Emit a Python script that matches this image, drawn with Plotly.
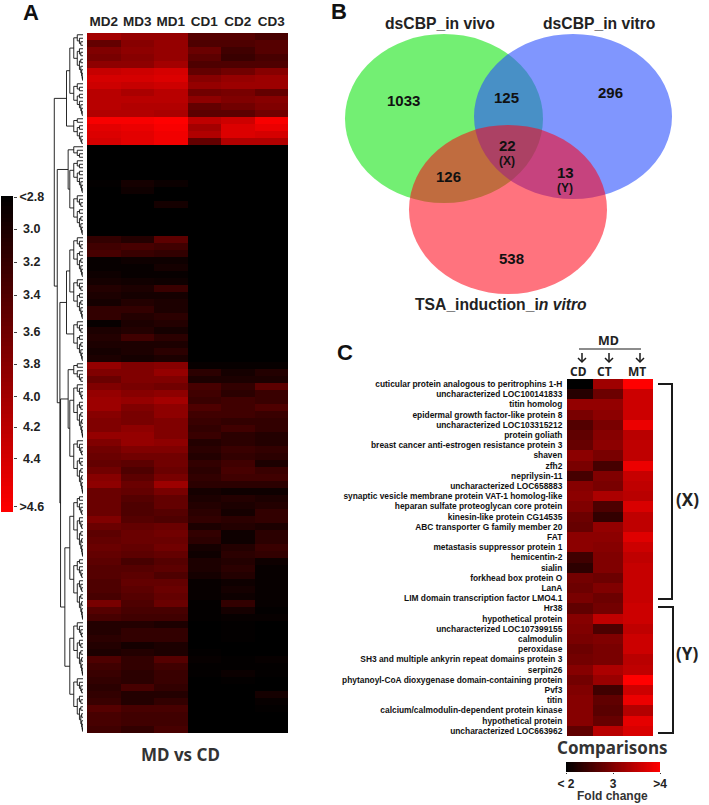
import numpy as np
import plotly.graph_objects as go

W, H = 709, 805

# ---------- Panel A data (fold change per row band) : MD2 MD3 MD1 CD1 CD2 CD3
samples_a = ["MD2", "MD3", "MD1", "CD1", "CD2", "CD3"]
rows_top_red = [
    [3.95,3.85,3.85,3.40,3.40,3.30],[3.50,3.75,3.85,3.35,3.35,3.40],[3.70,3.80,3.85,3.55,3.25,3.40],
    [3.65,3.75,3.85,3.45,3.20,3.30],[3.80,3.80,3.95,3.35,3.35,3.35],[4.20,4.25,4.30,3.50,3.60,3.75],
    [4.30,4.30,4.35,3.75,3.85,3.90],[4.25,4.20,4.25,3.85,3.90,3.90],[4.10,4.00,4.10,3.60,3.65,3.50],
    [4.10,4.10,4.10,3.80,3.70,3.75],[4.10,4.05,4.05,3.50,3.60,3.70],[4.05,4.05,4.00,3.45,3.45,3.60],
    [4.55,4.55,4.60,4.15,4.25,4.55],[4.40,4.45,4.55,3.95,4.35,4.45],[4.35,4.40,4.50,4.05,4.35,4.30],
    [4.30,4.40,4.50,3.50,4.05,4.05],
]
rows_black = [
    [2.80,2.80,2.80,2.80,2.80,2.80],[2.80,2.80,2.80,2.80,2.80,2.80],[2.80,2.80,2.80,2.80,2.80,2.80],
    [2.80,2.80,2.80,2.80,2.80,2.80],[2.80,2.80,2.80,2.80,2.80,2.80],[2.82,2.95,2.88,2.80,2.80,2.80],
    [2.80,2.90,2.80,2.80,2.80,2.80],[2.80,2.80,2.80,2.80,2.80,2.80],[2.80,2.80,2.95,2.80,2.80,2.80],
    [2.80,2.80,2.80,2.80,2.80,2.80],[2.80,2.80,2.80,2.80,2.80,2.80],[2.80,2.80,2.80,2.80,2.80,2.80],
    [2.80,2.80,2.80,2.80,2.80,2.80],
]
rows_dim = [
    [3.15,3.05,3.45,2.80,2.80,2.80],[3.25,3.30,3.25,2.80,2.80,2.80],[3.30,3.20,3.15,2.80,2.80,2.80],
    [2.85,2.90,2.90,2.80,2.80,2.80],[2.85,2.85,2.95,2.80,2.80,2.80],[2.90,2.85,2.85,2.80,2.80,2.80],
    [2.95,2.92,2.90,2.80,2.80,2.80],[3.05,3.00,3.20,2.80,2.80,2.80],[3.00,2.95,2.95,2.80,2.80,2.80],
    [2.95,3.05,3.00,2.80,2.80,2.80],[3.15,3.15,3.00,2.80,2.80,2.80],[3.15,3.05,3.10,2.80,2.80,2.80],
    [2.85,3.00,3.05,2.80,2.80,2.80],[3.00,3.05,2.95,2.80,2.80,2.80],[3.05,3.25,3.10,2.80,2.80,2.80],
    [3.00,3.00,3.00,2.80,2.80,2.80],[2.95,3.00,3.10,2.80,2.80,2.80],[3.00,2.95,3.00,2.80,2.80,2.80],
]
rows_upper_mid = [
    [3.85,3.70,3.75,2.85,2.85,2.85],[3.70,3.70,3.85,3.10,2.95,3.05],[3.55,3.70,3.70,3.00,3.00,3.00],
    [3.70,3.65,3.60,3.30,3.15,3.45],[3.85,3.75,3.80,3.25,3.10,3.20],[3.90,3.85,3.95,3.20,3.25,3.20],
    [3.90,3.70,3.80,3.35,3.25,3.35],[3.75,3.65,3.80,3.25,3.25,3.20],[3.70,3.65,3.70,3.20,3.15,3.15],
    [3.70,3.80,3.70,3.15,3.25,3.15],[3.85,3.85,3.70,3.20,3.10,3.05],[3.70,3.85,3.80,3.05,3.10,3.05],
    [3.60,3.70,3.70,3.10,3.20,3.15],[3.55,3.60,3.60,3.05,3.15,3.10],[3.50,3.45,3.60,3.15,3.25,3.00],
    [3.60,3.35,3.55,3.10,3.30,3.20],[3.75,3.45,3.65,3.15,3.25,3.25],[3.80,3.55,3.90,3.10,3.10,3.10],
    [3.55,3.50,3.65,2.95,2.90,2.90],
]
rows_lower = [
    [3.55,3.40,3.50,3.00,3.05,3.00],[3.55,3.35,3.50,3.05,3.00,3.05],[3.55,3.35,3.40,3.10,2.95,3.15],
    [3.70,3.40,3.35,3.15,3.10,3.15],[3.55,3.50,3.55,3.00,3.05,3.00],[3.45,3.55,3.60,3.15,2.90,3.10],
    [3.50,3.55,3.55,3.10,2.90,3.10],[3.55,3.50,3.60,2.95,3.05,3.20],[3.50,3.45,3.50,2.90,3.10,3.15],
    [3.45,3.30,3.40,3.00,3.05,2.90],[3.40,3.40,3.45,3.00,3.10,2.85],[3.40,3.45,3.35,2.95,3.05,2.85],
    [3.35,3.50,3.50,2.85,2.90,2.85],[3.35,3.45,3.55,2.85,2.95,2.85],[3.30,3.40,3.50,2.85,2.90,2.85],
    [3.65,3.35,3.55,2.82,3.15,2.85],[3.40,3.30,3.30,2.82,2.95,2.82],[3.30,3.25,3.25,2.82,2.85,2.85],
]
rows_tail = [
    [3.05,3.05,3.00,2.80,2.82,2.80],[3.05,3.15,3.15,2.80,2.82,2.80],[3.10,3.15,3.15,2.80,2.82,2.80],
    [3.05,2.95,3.00,2.80,2.80,2.80],[3.00,3.05,3.00,2.82,2.80,2.80],[3.35,3.15,3.40,2.85,2.82,2.85],
    [3.25,3.15,3.25,2.82,2.82,2.82],[3.20,3.10,3.20,2.82,2.88,2.82],[3.15,3.10,3.20,2.80,2.82,2.80],
    [3.10,3.30,3.15,2.80,2.80,2.80],[3.15,3.05,3.05,2.80,2.80,2.95],[3.20,3.05,3.15,2.80,2.80,2.85],
    [3.40,3.30,3.30,2.80,2.80,2.82],[3.30,3.25,3.25,2.80,2.80,2.80],[3.30,3.25,3.25,2.80,2.80,2.80],
    [3.25,3.15,3.30,2.80,2.80,2.80],
]
heat_a = rows_top_red + rows_black + rows_dim + rows_upper_mid + rows_lower + rows_tail

# Dendrogram tree: (node depth, children); an integer is a cluster of that many half-row leaves
dendro_tree = (0.13, [
    (0.50, [(0.60, [14, 10]), 8]),
    (0.22, [
        (0.55, [4, (0.60, [10, 12])]),
        (0.30, [
            (0.50, [(0.60, [12, 12]), 12]),
            (0.32, [
                (0.55, [6, (0.60, [16, 16])]),
                (0.45, [(0.60, [18, 18]), (0.60, [16, 16])]),
            ]),
        ]),
    ]),
])

legend_a_pos = [2.806, 2.988, 3.176, 3.364, 3.575, 3.757, 3.94, 4.116, 4.298, 4.57]
legend_a_text = ["<2.8", "\u00a03.0", "\u00a03.2", "\u00a03.4", "\u00a03.6", "\u00a03.8", "\u00a04.0", "\u00a04.2", "\u00a04.4", ">4.6"]

# ---------- Panel B data
venn_numbers = ["1033", "125", "296", "22", "126", "13", "538"]
venn_sets = ["dsCBP_in vivo", "dsCBP_in vitro", "TSA_induction_i<i>n vitro</i>"]

# ---------- Panel C data
genes_c = [
    "cuticular protein analogous to peritrophins 1-H", "uncharacterized LOC100141833", "titin homolog",
    "epidermal growth factor-like protein 8", "uncharacterized LOC103315212", "protein goliath",
    "breast cancer anti-estrogen resistance protein 3", "shaven", "zfh2", "neprilysin-11",
    "uncharacterized LOC658883", "synaptic vesicle membrane protein VAT-1 homolog-like",
    "heparan sulfate proteoglycan core protein", "kinesin-like protein CG14535",
    "ABC transporter G family member 20", "FAT", "metastasis suppressor protein 1", "hemicentin-2",
    "sialin", "forkhead box protein O", "LanA", "LIM domain transcription factor LMO4.1", "Hr38",
    "hypothetical protein", "uncharacterized LOC107399155", "calmodulin", "peroxidase",
    "SH3 and multiple ankyrin repeat domains protein 3", "serpin26",
    "phytanoyl-CoA dioxygenase domain-containing protein", "Pvf3", "titin",
    "calcium/calmodulin-dependent protein kinase", "hypothetical protein", "uncharacterized LOC663962",
]
cd_c = [2.0,2.3,3.15,2.95,2.65,2.75,2.8,3.1,2.95,2.55,3.05,3.1,3.0,2.85,2.8,3.1,3.1,2.5,2.35,2.9,2.85,2.95,
        2.75,3.05,3.0,2.95,2.85,2.9,3.05,2.9,3.0,3.05,3.05,3.05,2.75]
ct_c = [3.25,2.85,3.15,3.1,2.95,3.05,3.1,2.95,2.55,3.0,2.95,3.35,2.6,2.4,3.15,3.1,3.05,3.0,3.0,2.85,3.0,2.85,
        2.9,3.5,2.6,3.0,2.95,2.95,3.35,3.2,2.5,2.75,2.7,2.8,3.45]
mt_c = [4.0,3.6,3.6,3.6,3.85,3.45,3.5,3.5,3.85,3.55,3.5,3.45,3.7,3.5,3.5,3.75,3.6,3.5,3.55,3.55,3.55,3.55,
        3.6,3.6,3.5,3.6,3.6,3.45,3.5,4.0,3.6,3.85,3.4,3.8,3.7]
column_edges_c = [0, 26, 56, 86]
legend_c_text = ["< 2", "3", ">4"]

RED = [[0, "#000000"], [1, "#ff0000"]]
SANS = "Liberation Sans"
HUM = "Noto Sans"

def fx(p): return p / W
def fy(p): return 1 - p / H
def dom(a, b, size): return [a / size, b / size]
def ydom(top, bottom): return [1 - bottom / H, 1 - top / H]

# Dendrogram coordinates from the tree
dx, dy = [], []
leaf_i = [0]
def seg(x0, y0, x1, y1):
    dx.extend([x0, x1, None]); dy.extend([y0, y1, None])
def comb(n, h):
    if n == 1:
        y = -0.5 + (leaf_i[0] + 0.5) / 2
        leaf_i[0] += 1
        return y, 1.0
    a = max(1, n // 3)
    ch = h + (1 - h) * 0.38
    ya = comb(a, ch)
    yb = comb(n - a, ch)
    return join(h, [ya, yb]), h
def join(h, kids):
    for y, kh in kids:
        seg(h, y, kh, y)
    ys = [k[0] for k in kids]
    seg(h, min(ys), h, max(ys))
    return (min(ys) + max(ys)) / 2
def walk(node):
    if isinstance(node, int):
        return comb(node, 0.72)
    h, children = node
    return join(h, [walk(c) for c in children]), h
walk(dendro_tree)

fig = go.Figure()
# A heatmap
fig.add_trace(go.Heatmap(z=heat_a, x=samples_a, y=list(range(len(heat_a))), colorscale=RED, zmin=2.8, zmax=4.6,
                         showscale=False, xaxis="x", yaxis="y"))
# A dendrogram
fig.add_trace(go.Scatter(x=dx, y=dy, mode="lines", line=dict(color="#111111", width=0.9), xaxis="x2", yaxis="y",
                         showlegend=False, hoverinfo="skip"))
# A legend
ramp_a = np.linspace(2.8, 4.6, 80)
fig.add_trace(go.Heatmap(z=[[v] for v in ramp_a], y=ramp_a, x=[0], colorscale=RED, zmin=2.8, zmax=4.6,
                         showscale=False, xaxis="x3", yaxis="y3"))
# C heatmap
fig.add_trace(go.Heatmap(z=[list(r) for r in zip(cd_c, ct_c, mt_c)], x=column_edges_c, y=list(range(len(genes_c))),
                         colorscale=RED, zmin=2, zmax=4, showscale=False, xaxis="x4", yaxis="y4"))
# C legend
ramp_c = np.linspace(2, 4, 80)
fig.add_trace(go.Heatmap(z=[list(ramp_c)], x=ramp_c, y=[0], colorscale=RED, zmin=2, zmax=4,
                         showscale=False, xaxis="x5", yaxis="y5"))

shapes = []
def ellipse(x0, x1, y0, y1, col):
    shapes.append(dict(type="circle", xref="paper", yref="paper", x0=fx(x0), x1=fx(x1), y0=fy(y1), y1=fy(y0),
                       fillcolor=col, line=dict(width=0), layer="below"))
ellipse(345, 543, 34, 203, "rgba(0,225,0,0.55)")
ellipse(474, 672, 34, 199, "rgba(43,80,253,0.60)")
ellipse(409, 607, 125, 294, "rgba(255,0,20,0.55)")

def path(pts, width=2, col="#1a1a1a"):
    d = "M " + " L ".join(f"{fx(x):.5f},{fy(y):.5f}" for x, y in pts)
    shapes.append(dict(type="path", xref="paper", yref="paper", path=d, line=dict(color=col, width=width)))
path([(658, 384), (672, 384), (672, 599), (658, 599)])
path([(658, 607), (673, 607), (673, 733), (658, 733)])
path([(579, 349), (641, 349)], width=1.2)
for ax_ in (582, 609, 640):
    path([(ax_, 353), (ax_, 362)], width=1.5)
    path([(ax_ - 4, 358), (ax_, 362), (ax_ + 4, 358)], width=1.5)

anns = []
def text(x, y, s, size, font=SANS, bold=True, col="#111111", anchor="center"):
    anns.append(dict(x=fx(x), y=fy(y), xref="paper", yref="paper", text=s, showarrow=False, xanchor=anchor,
                     yanchor="middle", font=dict(family=font, size=size, color=col, weight=700 if bold else 400)))
text(31, 13, "A", 22)
text(339, 12, "B", 22)
text(345, 352, "C", 22)
text(180, 754, "MD vs CD", 17, HUM, col="#333333")
text(440, 23, "dsCBP_in vivo", 15.7, col="#222222")
text(599, 23, "dsCBP_in vitro", 15.7, col="#222222")
text(501, 304, venn_sets[2], 15.7, col="#222222")
venn_xy = [(403, 100), (506, 98), (610, 92), (507, 145), (448, 176), (565, 172), (511, 259)]
for (x, y), s in zip(venn_xy, venn_numbers):
    text(x, y, s, 15)
text(507, 161, "(X)", 12)
text(565, 188, "(Y)", 12)
text(608, 341, "MD", 12.5, HUM, col="#222222")
for x, s in zip((578, 604, 637), ("CD", "CT", "MT")):
    text(x, 371, s, 12, HUM, col="#222222")
text(687, 499, "(X)", 17, HUM, col="#222222")
text(687, 653, "(Y)", 17, HUM, col="#222222")
text(612, 747, "Comparisons", 17, HUM, col="#333333")
text(612, 796, "Fold change", 12, SANS, col="#333333")

fig.update_layout(
    template="none",
    width=W, height=H, margin=dict(l=0, r=0, t=0, b=0), paper_bgcolor="white", plot_bgcolor="white",
    showlegend=False, shapes=shapes, annotations=anns,
    xaxis=dict(domain=dom(87, 288, W), side="top", anchor="y", ticks="outside", ticklen=1, tickcolor="rgba(0,0,0,0)",
               showline=False, showgrid=False, zeroline=False, automargin=False,
               tickfont=dict(family=SANS, size=13.5, weight=700, color="#222222"), fixedrange=True),
    yaxis=dict(domain=ydom(33, 733), range=[99.5, -0.5], visible=False, automargin=False),
    xaxis2=dict(domain=dom(50, 83, W), range=[0, 1], visible=False, anchor="y", automargin=False),
    xaxis3=dict(domain=dom(1, 13, W), visible=False, anchor="y3", automargin=False),
    yaxis3=dict(domain=ydom(196, 512), range=[4.6, 2.8], side="right", anchor="x3", tickmode="array",
                tickvals=legend_a_pos, ticktext=legend_a_text, ticks="outside", ticklen=3, tickcolor="#444444",
                tickfont=dict(family=SANS, size=12.5, weight=700, color="#222222"), showgrid=False, zeroline=False,
                showline=False, automargin=False),
    xaxis4=dict(domain=dom(567, 653, W), range=[0, 86], visible=False, anchor="y4", automargin=False),
    yaxis4=dict(domain=ydom(379, 736), range=[34.5, -0.5], anchor="x4", tickmode="array",
                tickvals=list(range(len(genes_c))), ticktext=genes_c, ticks="outside", ticklen=2,
                tickcolor="rgba(0,0,0,0)", showline=False, showgrid=False, zeroline=False, automargin=False,
                tickfont=dict(family=SANS, size=8.4, weight=700, color="#111111")),
    xaxis5=dict(domain=dom(566, 660, W), range=[2, 4], anchor="y5", tickmode="array", tickvals=[2, 3, 4],
                ticktext=legend_c_text, ticks="outside", ticklen=1, tickcolor="#333333", showgrid=False, zeroline=False,
                showline=False, automargin=False,
                tickfont=dict(family=SANS, size=12, weight=700, color="#222222")),
    yaxis5=dict(domain=ydom(762, 772), visible=False, anchor="x5", automargin=False),
)
fig.write_html("out.html", config={"displayModeBar": False},
               post_script="document.body.style.margin='0';")
